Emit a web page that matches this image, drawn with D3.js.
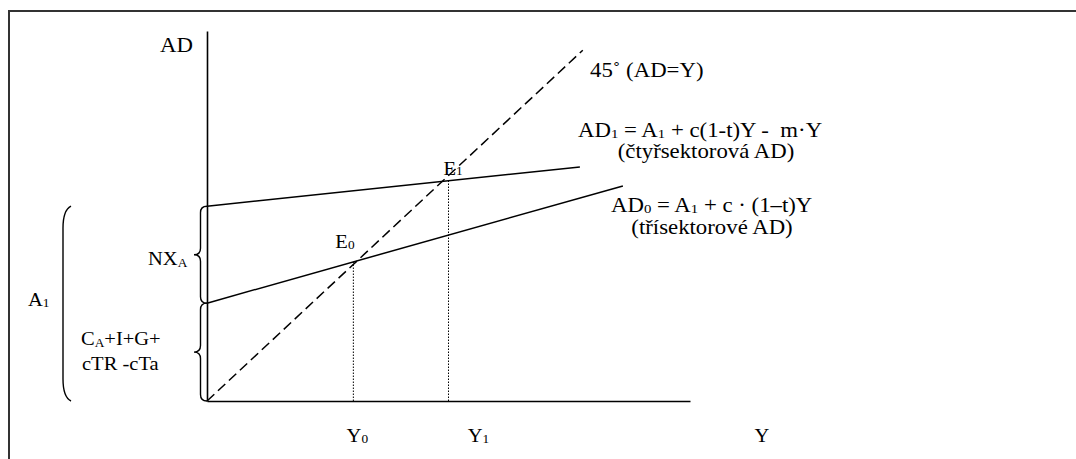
<!DOCTYPE html>
<html>
<head>
<meta charset="utf-8">
<script src="https://cdn.jsdelivr.net/npm/d3@7"></script>
<style>
  body { margin: 0; background: #fff; }
  svg text { font-family: "Liberation Serif", "Times New Roman", serif; fill: #000; white-space: pre; }
</style>
</head>
<body>
<div id="chart"></div>
<script>
// keynesian cross: AD lines, 45 degree line, equilibria

// AD lines (intercept on the AD axis, slope, where the line stops on Y)
const adNames = ["AD1", "AD0"]
const adIntercepts = [43.2, 21.7]
const adSlopes = [0.113, 0.302]
const adEnds = [77.2, 86.1]

// 45 degree line runs from 0 to here
const diagEnd = 77.8

// equilibrium outputs (Y0 on AD0, Y1 on AD1)
const eqNames = ["0", "1"]
const eqValues = [30.3, 50]
const eqLine = [1, 0] // index into ad arrays

const width = 1076, height = 459
// the original text looks a bit stretched sideways
const stretch = 1.14

let svg = d3.select("#chart").append("svg")
    .attr("width", width)
    .attr("height", height)

// frame (top and left only, like the cropped original)
svg.append("path")
    .attr("d", "M9,459 L9,11 L1076,11")
    .attr("fill", "none")
    .attr("stroke", "#333")
    .attr("stroke-width", 2)

let x = d3.scaleLinear().domain([0, 100]).range([207, 690])
let y = d3.scaleLinear().domain([0, 82.06]).range([401, 31])

// axes without ticks
let xAxis = svg.append("g")
    .attr("transform", "translate(0," + y(0) + ")")
    .call(d3.axisBottom(x).tickValues([]).tickSizeOuter(0))
let yAxis = svg.append("g")
    .attr("transform", "translate(" + x(0) + ",0)")
    .call(d3.axisLeft(y).tickValues([]).tickSizeOuter(0))
svg.selectAll(".domain").attr("stroke", "#000").attr("stroke-width", 1.6)

let line = d3.line().x(d => x(d[0])).y(d => y(d[1]))

// 45 degree dashed
svg.append("path")
    .attr("d", line([[0, 0], [diagEnd, diagEnd]]))
    .attr("fill", "none")
    .attr("stroke", "#000")
    .attr("stroke-width", 1.5)
    .attr("stroke-dasharray", "10,5")

// AD lines
adNames.forEach((name, i) => {
    svg.append("path")
        .attr("d", line([[0, adIntercepts[i]], [adEnds[i], adIntercepts[i] + adSlopes[i] * adEnds[i]]]))
        .attr("fill", "none")
        .attr("stroke", "#000")
        .attr("stroke-width", 1.5)
})

// dotted drop lines from equilibria
eqValues.forEach((v, i) => {
    let k = eqLine[i]
    svg.append("path")
        .attr("d", line([[v, 0], [v, adIntercepts[k] + adSlopes[k] * v]]))
        .attr("fill", "none")
        .attr("stroke", "#000")
        .attr("stroke-width", 1)
        .attr("stroke-dasharray", "1.5,1.5")
})

// helper for text with subscripts: parts = [[text, isSub], ...]
function label(px, py, parts, size, anchor, drop) {
    let d = drop === undefined ? 2 : drop
    let t = svg.append("text")
        .attr("transform", "translate(" + px + "," + py + ") scale(" + stretch + ",1)")
        .attr("font-size", size)
        .attr("text-anchor", anchor || "start")
    parts.forEach(p => {
        let s = t.append("tspan").text(p[0])
        if (p[1]) s.attr("font-size", size * 0.65).attr("dy", d)
        else if (p[1] === false) s.attr("dy", -d)
    })
    return t
}

label(160, 52, [["AD"]], 20)
label(590, 77, [["45˚ (AD=Y)"]], 20)
label(x(eqValues[0]) - 18, 248, [["E"], ["0", true]], 18, "start", 1)
label(x(eqValues[1]) - 5, 175, [["E"], ["1", true]], 18, "start", 0)

label(578, 137, [["AD"], ["1", true], [" = A", false], ["1", true], [" + c(1-t)Y -  m·Y", false]], 20, "start", 1)
label(706, 158, [["(čtyřsektorová AD)"]], 20, "middle")
label(611, 212, [["AD"], ["0", true], [" = A", false], ["1", true], [" + c · (1–t)Y", false]], 20, "start", 1)
label(712, 234, [["(třísektorové AD)"]], 20, "middle")

label(x(eqValues[0]) + 4, 442, [["Y"], ["0", true]], 18, "middle", 1)
label(x(eqValues[1]) + 30, 442, [["Y"], ["1", true]], 18, "middle", 1)
label(762, 442, [["Y"]], 18, "middle")

label(148, 265, [["NX"], ["A", true]], 18)
label(81, 345, [["C"], ["A", true], ["+I+G+", false]], 18)
label(82, 370, [["cTR -cTa"]], 18)
label(28, 306, [["A"], ["1", true]], 18, "start", 1)

// curly braces on the left of the AD axis
function brace(bx, y1, y2, w) {
    let m = (y1 + y2) / 2, q = w / 2
    return "M" + bx + "," + y1 +
        " Q" + (bx - q) + "," + y1 + " " + (bx - q) + "," + (y1 + q) +
        " L" + (bx - q) + "," + (m - q) +
        " Q" + (bx - q) + "," + m + " " + (bx - w) + "," + m +
        " Q" + (bx - q) + "," + m + " " + (bx - q) + "," + (m + q) +
        " L" + (bx - q) + "," + (y2 - q) +
        " Q" + (bx - q) + "," + y2 + " " + bx + "," + y2
}

svg.append("path")
    .attr("d", brace(x(0), y(adIntercepts[0]), y(adIntercepts[1]), 13))
    .attr("fill", "none").attr("stroke", "#000").attr("stroke-width", 1.4)
svg.append("path")
    .attr("d", brace(x(0), y(adIntercepts[1]), y(0), 13))
    .attr("fill", "none").attr("stroke", "#000").attr("stroke-width", 1.4)

// big round bracket for A1
let bTop = y(adIntercepts[0]), bBot = y(0)
svg.append("path")
    .attr("d", "M71," + bTop + " Q63," + (bTop + 4) + " 63," + (bTop + 22) +
        " L63," + (bBot - 22) + " Q63," + (bBot - 4) + " 71," + bBot)
    .attr("fill", "none").attr("stroke", "#000").attr("stroke-width", 1.4)
</script>
</body>
</html>
